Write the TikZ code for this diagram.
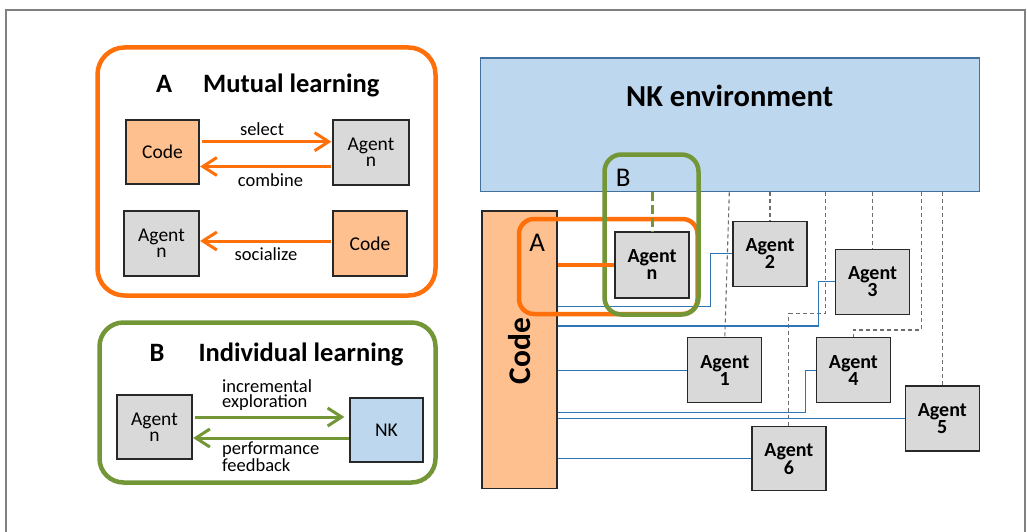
\documentclass[tikz,border=0pt]{standalone}
\usepackage{fontspec}
\setmainfont{Carlito}
\usetikzlibrary{arrows.meta,calc}

\definecolor{framegray}{RGB}{128,128,128}
\definecolor{orangeA}{RGB}{255,112,10}
\definecolor{greenB}{RGB}{115,150,55}
\definecolor{codefill}{RGB}{255,192,143}
\definecolor{agentfill}{RGB}{217,217,217}
\definecolor{nkfill}{RGB}{189,215,238}
\definecolor{nkedge}{RGB}{65,113,156}
\definecolor{linkblue}{RGB}{46,117,182}
\definecolor{boxedge}{RGB}{40,40,40}
\definecolor{tiegray}{RGB}{110,110,110}

\newcommand\fsz[2]{\fontsize{#1}{#2}\selectfont}

\begin{document}
\begin{tikzpicture}[x=1pt,y=-1pt,
  box/.style={draw=boxedge,line width=1.2pt,inner sep=0pt,align=center},
  codebox/.style={box,fill=codefill,font=\fsz{19.5}{16}},
  agentbox/.style={box,fill=agentfill,font=\fsz{19.5}{16}},
  nkbox/.style={box,fill=nkfill,font=\fsz{19.5}{16}},
  ragent/.style={box,fill=agentfill,font=\bfseries\fsz{20}{17},
    minimum width=74pt,minimum height=65pt},
  panelA/.style={draw=orangeA,line width=4.5pt},
  panelB/.style={draw=greenB,line width=4.5pt},
  oarrow/.style={draw=orangeA,line width=3pt,-{Straight Barb[length=14pt,width=18pt]}},
  garrow/.style={draw=greenB,line width=3pt,-{Straight Barb[length=14pt,width=18pt]}},
  lbl/.style={inner sep=0pt,font=\fsz{18.5}{14.7}},
  ttl/.style={inner sep=0pt,anchor=base west,font=\bfseries\fsz{26.5}{30}},
  tag/.style={inner sep=0pt,anchor=base,font=\fsz{27}{30}},
  link/.style={draw=linkblue,line width=1.2pt},
  tie/.style={draw=tiegray,line width=1.1pt,dash pattern=on 4pt off 3pt},
]
\useasboundingbox (0,0) rectangle (1027,532);
\fill[white] (0,0) rectangle (1027,532);

% outer frame
\draw[framegray,line width=2.5pt] (6,540) -- (6,10) -- (1025,10) -- (1025,540);

% ---------------- panel A: mutual learning ----------------
\draw[panelA,rounded corners=27pt] (97.5,47.5) rectangle (435.5,295.5);
\node[ttl] (tA) at (156,92.3) {A};
\node[ttl] (tAtext) at (203,92.3) {Mutual learning};

\node[codebox,minimum width=73pt,minimum height=64pt] (codeA1) at (162.5,152) {Code};
\node[agentbox,minimum width=76pt,minimum height=65pt] (agentA1) at (371,152.5) {Agent\\n};
\node[agentbox,minimum width=75pt,minimum height=65pt] (agentA2) at (161.5,243.5) {Agent\\n};
\node[codebox,minimum width=74pt,minimum height=65pt] (codeA2) at (370,243.5) {Code};

\draw[oarrow,shorten <=2pt,shorten >=1pt] ([yshift=10.3pt]codeA1.east) --
  node[lbl,above=5pt,xshift=-4pt] (lsel) {select}
  ([yshift=10.3pt]codeA1.east -| agentA1.west);
\draw[oarrow,shorten <=1pt,shorten >=0.5pt] ([yshift=-14pt]agentA1.west) --
  node[lbl,below=5.5pt,xshift=4.5pt] (lcomb) {combine}
  ([yshift=-14pt]agentA1.west -| codeA1.east);
\draw[oarrow,shorten <=1pt,shorten >=0.5pt] ([yshift=2.5pt]codeA2.west) --
  node[lbl,below=5.5pt] (lsoc) {socialize}
  ([yshift=2.5pt]codeA2.west -| agentA2.east);

% ---------------- panel B: individual learning ----------------
\draw[panelB,rounded corners=24pt] (99.5,322.5) rectangle (435.5,482.5);
\node[ttl] (tB) at (149.5,361.7) {B};
\node[ttl] (tBtext) at (198.3,361.7) {Individual learning};

\node[agentbox,minimum width=75pt,minimum height=64pt] (agentB) at (154.5,427) {Agent\\n};
\node[nkbox,minimum width=73pt,minimum height=64pt] (nkB) at (386.5,430) {NK};

\draw[garrow,shorten <=2pt,shorten >=5pt] ([yshift=10pt]agentB.east) --
  ([yshift=10pt]agentB.east -| nkB.west);
\draw[garrow,shorten >=0.5pt] ([yshift=-8pt]nkB.west) --
  ([yshift=-8pt]nkB.west -| agentB.east);
\node[lbl,anchor=west,align=left] (lexp) at (222,395.3) {incremental\\exploration};
\node[lbl,anchor=west,align=left] (lfb) at (222,456.7) {performance\\feedback};

% ---------------- NK environment and code ----------------
\node[draw=nkedge,fill=nkfill,line width=1.3pt,minimum width=498.6pt,
  minimum height=133.7pt,inner sep=0pt] (nkR) at (730,124.85) {};
\node[inner sep=0pt,anchor=base,font=\bfseries\fsz{30.5}{32}] (nktext) at (729.7,106.7) {NK environment};

\node[box,fill=codefill,minimum width=75pt,minimum height=277.7pt] (codeR) at (519.5,349.85) {};
\node[rotate=90,inner sep=0pt,font=\bfseries\fsz{31.5}{34}] (codetext) at ([yshift=-1pt]codeR.center) {Code};

% agents
\node[ragent] (agent2) at (770,253.8) {Agent\\2};
\node[ragent] (agent3) at (872.5,281.7) {Agent\\3};
\node[ragent] (agent1) at (724.8,370.3) {Agent\\1};
\node[ragent] (agent4) at (853.4,370.3) {Agent\\4};
\node[ragent] (agent5) at (942.3,418.5) {Agent\\5};
\node[ragent,minimum height=64pt] (agent6) at (788.9,458.7) {Agent\\6};

% dashed ties from the NK environment to each agent
\draw[tie] ([xshift=-0.7pt]nkR.south) -- (agent1.north);
\draw[tie] (agent2.north |- nkR.south) -- (agent2.north);
\draw[tie] ([xshift=95.7pt]nkR.south) -- ++(0,121) -| (agent6.north);
\draw[tie] (agent3.north |- nkR.south) -- (agent3.north);
\draw[tie] ([xshift=191.7pt]nkR.south) -- ++(0,137.6) -| (agent4.north);
\draw[tie] (agent5.north |- nkR.south) -- (agent5.north);

% links from the code to each agent
\draw[link] ([yshift=43.2pt]codeR.east) -- ++(153,0) |- (agent2.west);
\draw[link] ([yshift=23.9pt]codeR.east) -- ++(260.7,0) |- (agent3.west);
\draw[link] (codeR.east |- agent1.west) -- (agent1.west);
\draw[link] ([yshift=-62.8pt]codeR.east) -- ++(248,0) |- (agent4.west);
\draw[link] (codeR.east |- agent5.west) -- (agent5.west);
\draw[link] (codeR.east |- agent6.west) -- (agent6.west);

% focal agent with the two learning loops
\draw[panelA,rounded corners=15pt] (519,219) rectangle (697.5,314);
\draw[panelB,rounded corners=17pt] (604.5,154.5) rectangle (698.5,314.5);
\node[ragent,minimum width=74pt,minimum height=66pt] (agentN) at (652,265) {Agent\\n};
\draw[orangeA,line width=3.5pt] (codeR.east |- agentN.west) -- (agentN.west);
\draw[greenB,line width=3pt,dash pattern=on 9pt off 4pt] (agentN.north |- nkR.south) -- (agentN.north);
\node[tag] (tagA) at (537.3,251.7) {A};
\node[tag] (tagB) at (623.3,186.7) {B};
\end{tikzpicture}
\end{document}
